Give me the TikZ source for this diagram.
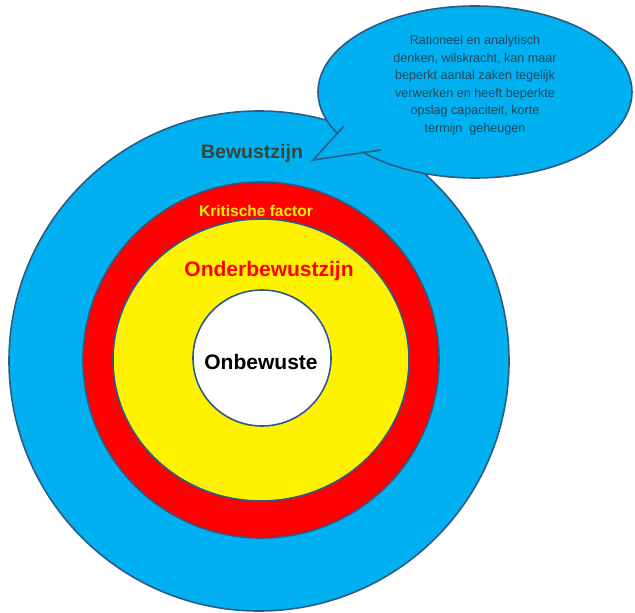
\documentclass[tikz,border=0pt]{standalone}
\usepackage{fontspec}
\setmainfont{Liberation Sans}
\usetikzlibrary{positioning,shapes.geometric}
\definecolor{skyblue}{HTML}{00B0F0}
\definecolor{rimblue}{HTML}{2E5B86}
\definecolor{darkgreen}{HTML}{34483A}
\definecolor{bubbletext}{HTML}{24475A}
\tikzset{
  ring/.style={draw=rimblue,line width=1.6pt},
  label/.style={font=\fontsize{21}{23}\selectfont\bfseries},
  every node/.style={inner sep=0pt}
}
\begin{document}
\begin{tikzpicture}[x=1pt,y=-1pt]
  % Page window
  \useasboundingbox (0,0) rectangle (635,613);

  % Rings
  \draw[ring,fill=skyblue] (259,361) circle (250);
  \draw[ring,fill=red] (261,360) circle (178);
  \draw[ring,fill=yellow] (261,360) ellipse (148 and 141);
  \draw[ring,fill=white] (262,358) ellipse (69 and 68);

  % Callout
  \draw[ring,fill=skyblue] (475,92) ellipse (157 and 86);
  \fill[skyblue] (346,124) -- (313,160) -- (384,148) -- (395,128) -- cycle;
  \draw[ring,line join=miter] (344,126) -- (313,160) -- (381,150);

  % Texts
  \node[font=\fontsize{19.5}{22}\selectfont\bfseries,text=darkgreen] (bewust) at (252,153) {Bewustzijn};
  \node[font=\fontsize{15.5}{17}\selectfont\bfseries,text=yellow] (kritisch) at (256,211) {Kritische factor};
  \node[label,text=red] (onder) at (269,271) {Onderbewustzijn};
  \node[label,text=black] (onbewust) at (261,362) {Onbewuste};
  \node[align=center,text=bubbletext,font=\fontsize{12.6}{17.5}\selectfont] (bubble) at (475,85)
    {Rationeel en analytisch\\denken, wilskracht, kan maar\\beperkt aantal zaken tegelijk\\verwerken en heeft beperkte\\opslag capaciteit, korte\\termijn\ \ geheugen};
\end{tikzpicture}
\end{document}
